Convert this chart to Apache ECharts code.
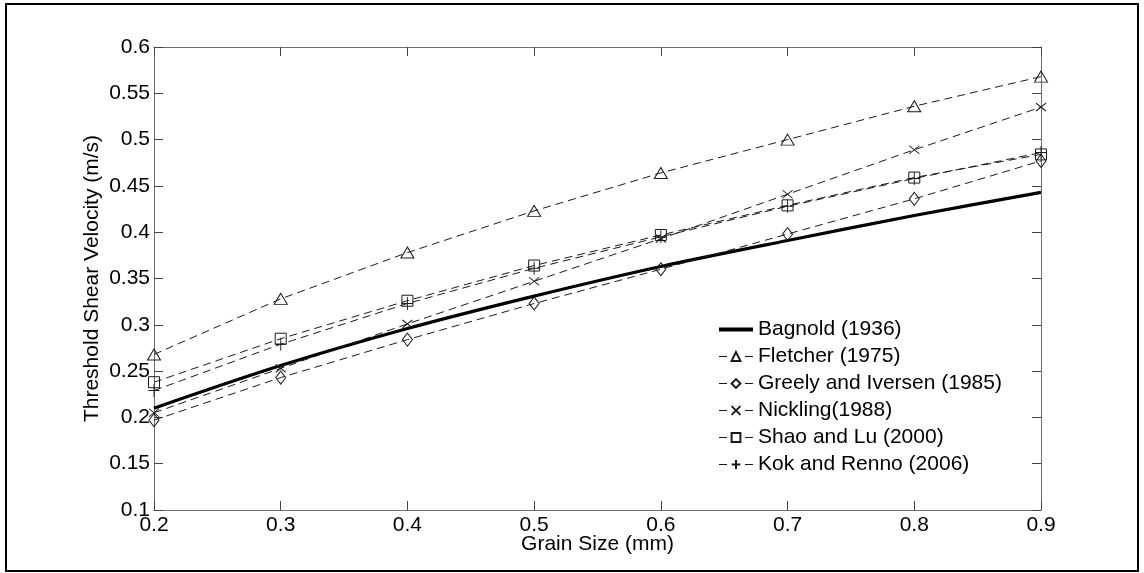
<!DOCTYPE html>
<html>
<head>
<meta charset="utf-8">
<script src="https://cdn.jsdelivr.net/npm/echarts@6/dist/echarts.min.js"></script>
<style>
  html, body { margin: 0; padding: 0; background: #fff; }
  #chart { width: 1144px; height: 573px; }
</style>
</head>
<body>
<div id="chart"></div>
<script>
// Grain size (mm) at which each threshold relation is evaluated
const grainSize = [0.2, 0.3, 0.4, 0.5, 0.6, 0.7, 0.8, 0.9];

// Threshold shear velocity (m/s) per relation
const bagnold  = [0.210, 0.256, 0.296, 0.331, 0.363, 0.391, 0.418, 0.443];
const fletcher = [0.268, 0.328, 0.378, 0.423, 0.464, 0.500, 0.536, 0.568];
const greely   = [0.197, 0.243, 0.284, 0.323, 0.360, 0.398, 0.436, 0.477];
const nickling = [0.205, 0.253, 0.301, 0.347, 0.393, 0.441, 0.489, 0.535];
const shaoLu   = [0.238, 0.285, 0.326, 0.364, 0.397, 0.429, 0.459, 0.484];
const kokRenno = [0.229, 0.279, 0.323, 0.361, 0.395, 0.428, 0.458, 0.486];

const seriesNames = [
  'Bagnold (1936)',
  'Fletcher (1975)',
  'Greely and Iversen (1985)',
  'Nickling(1988)',
  'Shao and Lu (2000)',
  'Kok and Renno (2006)'
];

const FONT = '"Liberation Sans", Arial, Helvetica, sans-serif';
const AXIS_COLOR = '#6e6e6e';

function pairs(ys) {
  return grainSize.map((x, i) => [x, ys[i]]);
}

const crossPath = 'path://M0,0L10,8M10,0L0,8';
const plusPath  = 'path://M5,0L5,12M0,6L10,6';

function dashedSeries(name, ys, symbol, size) {
  return {
    name: name,
    type: 'line',
    data: pairs(ys),
    symbol: symbol,
    symbolSize: size,
    showAllSymbol: true,
    lineStyle: { color: '#1a1a1a', width: 1, type: [8, 5] },
    itemStyle: { color: 'rgba(0,0,0,0)', borderColor: '#1a1a1a', borderWidth: 1 },
    emphasis: { disabled: true },
    z: 3
  };
}

const chart = echarts.init(document.getElementById('chart'), null, { renderer: 'canvas' });

const tickFmt2 = v => String(+v.toFixed(2));

// legend entries: thick solid line for the first curve, "-marker-" for the rest
const legendData = seriesNames.map((n, i) => i === 0
  ? { name: n,
      itemStyle: { color: 'rgba(0,0,0,0)', borderWidth: 0, opacity: 0 },
      lineStyle: { color: '#000', width: 4, type: 'solid' } }
  : { name: n,
      lineStyle: { color: '#1a1a1a', width: 1, type: [8, 18] } });

chart.setOption({
  animation: false,
  backgroundColor: '#ffffff',
  textStyle: { fontFamily: FONT },
  graphic: [{
    type: 'rect',
    shape: { x: 6, y: 4, width: 1132, height: 567 },
    style: { fill: 'none', stroke: '#000', lineWidth: 2 },
    silent: true,
    z: -10
  }],
  grid: { left: 154, right: 103, top: 47, bottom: 63, containLabel: false },
  legend: {
    orient: 'vertical',
    left: 717,
    top: 319,
    padding: 0,
    itemWidth: 34,
    itemHeight: 11,
    itemGap: 6,
    selectedMode: false,
    textStyle: { fontFamily: FONT, fontSize: 21, color: '#000' },
    data: legendData
  },
  xAxis: [{
    type: 'value',
    min: 0.2, max: 0.9, interval: 0.1,
    name: 'Grain Size (mm)',
    nameLocation: 'middle',
    nameGap: 24,
    nameMoveOverlap: false,
    nameTextStyle: { fontFamily: FONT, fontSize: 21, color: '#000' },
    axisLine: { show: true, lineStyle: { color: AXIS_COLOR, width: 1 } },
    axisTick: { show: true, inside: true, length: 9, lineStyle: { color: '#444' } },
    axisLabel: { fontFamily: FONT, fontSize: 21, color: '#000', margin: 5, formatter: v => String(+v.toFixed(1)) },
    splitLine: { show: false }
  }, {
    type: 'value',
    position: 'top',
    min: 0.2, max: 0.9, interval: 0.1,
    axisLine: { show: true, lineStyle: { color: AXIS_COLOR, width: 1 } },
    axisTick: { show: true, inside: true, length: 9, lineStyle: { color: '#444' } },
    axisLabel: { show: false },
    splitLine: { show: false }
  }],
  yAxis: [{
    type: 'value',
    min: 0.1, max: 0.6, interval: 0.05,
    name: 'Threshold Shear Velocity (m/s)',
    nameLocation: 'middle',
    nameGap: 51,
    nameMoveOverlap: false,
    nameTextStyle: { fontFamily: FONT, fontSize: 21, color: '#000' },
    axisLine: { show: true, lineStyle: { color: AXIS_COLOR, width: 1 } },
    axisTick: { show: true, inside: true, length: 9, lineStyle: { color: '#444' } },
    axisLabel: { fontFamily: FONT, fontSize: 21, color: '#000', margin: 4, formatter: tickFmt2 },
    splitLine: { show: false }
  }, {
    type: 'value',
    position: 'right',
    min: 0.1, max: 0.6, interval: 0.05,
    axisLine: { show: true, lineStyle: { color: AXIS_COLOR, width: 1 } },
    axisTick: { show: true, inside: true, length: 9, lineStyle: { color: '#444' } },
    axisLabel: { show: false },
    splitLine: { show: false }
  }],
  series: [
    {
      name: seriesNames[0],
      type: 'line',
      data: pairs(bagnold),
      smooth: 0.3,
      symbol: 'none',
      lineStyle: { color: '#000', width: 3.2 },
      itemStyle: { color: '#000' },
      emphasis: { disabled: true },
      z: 2
    },
    dashedSeries(seriesNames[1], fletcher, 'triangle', [13, 11]),
    dashedSeries(seriesNames[2], greely, 'diamond', [10, 13]),
    dashedSeries(seriesNames[3], nickling, crossPath, [10, 8]),
    dashedSeries(seriesNames[4], shaoLu, 'rect', [11, 11]),
    dashedSeries(seriesNames[5], kokRenno, plusPath, [11, 13])
  ]
});
</script>
</body>
</html>
